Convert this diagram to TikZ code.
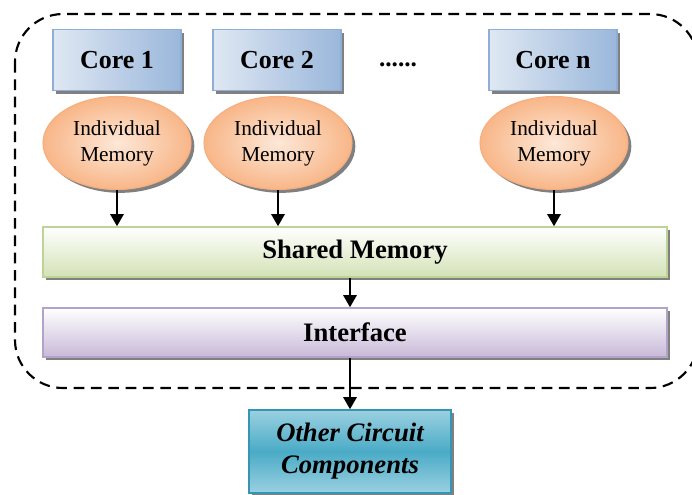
\documentclass[tikz,border=0pt]{standalone}
\usepackage{fontspec}
\setmainfont{Liberation Serif}
\usetikzlibrary{shadows,arrows.meta,shapes.geometric}
\definecolor{coreA}{HTML}{DFE8F3}
\definecolor{coreB}{HTML}{9AB7DB}
\definecolor{coreBorder}{HTML}{8EAED6}
\definecolor{memIn}{HTML}{FDE8D8}
\definecolor{memOut}{HTML}{F8B688}
\definecolor{memBorder}{HTML}{F7AE7C}
\definecolor{shA}{HTML}{FFFFFF}
\definecolor{shB}{HTML}{D3E2B6}
\definecolor{shBorder}{HTML}{BDD397}
\definecolor{ifA}{HTML}{FFFFFF}
\definecolor{ifB}{HTML}{C8B9D8}
\definecolor{ifBorder}{HTML}{B3A2C9}
\definecolor{ocMid}{HTML}{4AABC6}
\definecolor{ocEdge}{HTML}{9BD0E1}
\definecolor{ocBorder}{HTML}{3596B4}
\tikzset{
  shad/.style={drop shadow={shadow xshift=2.5pt,shadow yshift=-2.5pt,fill=black!50,opacity=1}},
  corebox/.style={rectangle,draw=coreBorder,line width=1pt,shade,shading angle=45,
    left color=coreA,right color=coreB,shad,minimum width=96pt,minimum height=45.75pt,
    font=\fontsize{19.5pt}{22pt}\selectfont\bfseries,inner sep=0pt},
  memell/.style={ellipse,draw=memBorder,line width=0.8pt,inner color=memIn,outer color=memOut,
    shad,minimum width=111pt,minimum height=69.75pt,inner sep=0pt,align=center,
    font=\fontsize{16pt}{19.5pt}\selectfont},
  widebox/.style={rectangle,line width=1.2pt,shad,minimum width=468pt,inner sep=0pt,
    font=\fontsize{20pt}{24pt}\selectfont\bfseries},
  arr/.style={line width=1.3pt,-{Triangle[width=10pt,length=9pt]}}
}
\begin{document}
\begin{tikzpicture}[x=0.75pt,y=-0.75pt]
\useasboundingbox (0,0) rectangle (692,494);
\draw[line width=1.6pt,dash pattern=on 8pt off 5pt,rounded corners=36pt] (15,14) rectangle (698,388);
\node[corebox] (c1) at (117,60) {Core 1};
\node[corebox] (c2) at (277,60) {Core 2};
\node[corebox] (cn) at (553,60) {Core n};
\node[font=\fontsize{19pt}{22pt}\selectfont\bfseries] (dots) at (398,65) {......};
\node[memell] (m1) at (117,143) {Individual\\Memory};
\node[memell] (m2) at (278,143) {Individual\\Memory};
\node[memell] (mn) at (554,143) {Individual\\Memory};
\node[widebox,draw=shBorder,top color=shA,bottom color=shB,minimum height=37.5pt] (sh) at (355,252) {Shared Memory};
\node[widebox,draw=ifBorder,top color=ifA,bottom color=ifB,minimum height=36.75pt] (if) at (355,332.5) {Interface};
\node[rectangle,draw=ocBorder,line width=1.2pt,top color=ocEdge,bottom color=ocEdge,middle color=ocMid,
  shad,minimum width=151.5pt,minimum height=62.25pt,inner sep=0pt,align=center,
  font=\fontsize{20pt}{24pt}\selectfont\bfseries\itshape] (oc) at (350,451.5) {Other Circuit\\Components};
\draw[arr] (m1.south) -- (m1.south |- sh.north);
\draw[arr] (m2.south) -- (m2.south |- sh.north);
\draw[arr] (mn.south) -- (mn.south |- sh.north);
\draw[arr] (sh.south -| oc.north) -- (if.north -| oc.north);
\draw[arr] (if.south -| oc.north) -- (oc.north);
\end{tikzpicture}
\end{document}
